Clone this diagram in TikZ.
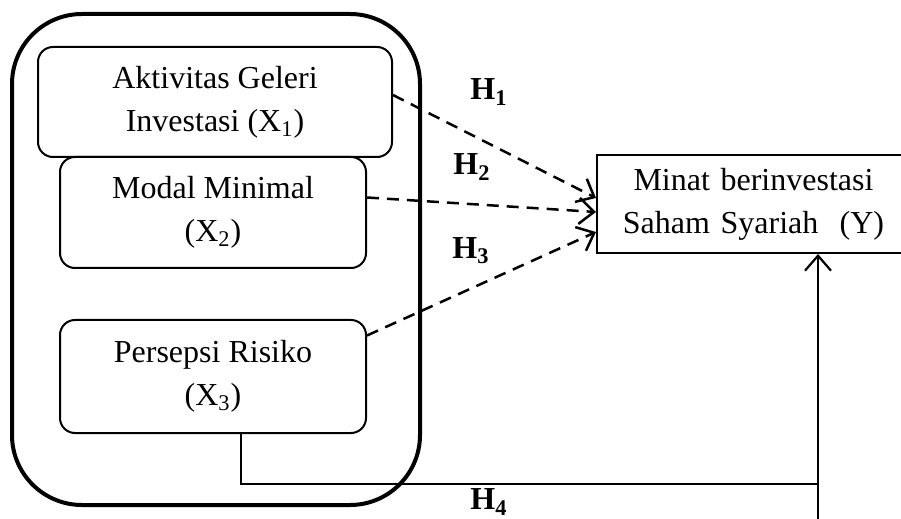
\documentclass[tikz,border=0pt]{standalone}
\usepackage{fontspec}
\setmainfont{Liberation Serif}
\usetikzlibrary{arrows.meta,calc}
\begin{document}
\begin{tikzpicture}[x=0.5pt,y=-0.5pt,
  varbox/.style={draw,line width=1pt,rounded corners=7.5pt,align=center,
    font=\fontsize{16}{21.5}\selectfont,inner sep=0pt},
  ybox/.style={draw,line width=1pt,align=center,font=\fontsize{16}{21.5}\selectfont,inner sep=0pt},
  outerbox/.style={line width=2pt,rounded corners=35pt},
  hyp/.style={dashed,dash pattern=on 6pt off 4pt,line width=1.25pt,-{Straight Barb[length=7.5pt,width=13pt,line width=1.25pt]}},
  hlabel/.style={font=\fontsize{16}{19}\selectfont\bfseries,inner sep=0pt},
  solidarr/.style={line width=1.1pt,-{Straight Barb[length=7.5pt,width=13pt,line width=1.1pt]}}]
\useasboundingbox (0,0) rectangle (901,519);
\draw[outerbox] (12,14) rectangle (420,505);
\node[varbox,minimum width=177pt,minimum height=55pt] (x1) at (215,102) {Aktivitas Geleri\\Investasi (X\textsubscript{1})};
\node[varbox,minimum width=153pt,minimum height=55.5pt] (x2) at (213,212.5) {Modal Minimal\\(X\textsubscript{2})};
\node[varbox,minimum width=153pt,minimum height=56.5pt] (x3) at (213,376.5) {Persepsi Risiko\\(X\textsubscript{3})};
\node[ybox,minimum width=156.5pt,minimum height=49pt,text width=156.5pt] (y) at (753.5,204) {Minat berinvestasi\\Saham Syariah\ \ (Y)};
\node[hlabel] (h1) at (489,92) {H\textsubscript{1}};
\node[hlabel] (h2) at (472,167) {H\textsubscript{2}};
\node[hlabel] (h3) at (471,251) {H\textsubscript{3}};
\node[hlabel] (h4) at (489,502) {H\textsubscript{4}};
\draw[hyp] ([yshift=3.5pt]x1.east) -- ([yshift=3pt]y.west);
\draw[hyp] ([yshift=7.5pt]x2.east) -- ([yshift=-4pt]y.west);
\draw[hyp] ([yshift=20.5pt]x3.east) -- ([yshift=-14pt]y.west);
\coordinate (j) at (818,484);
\coordinate (b) at (818,530);
\draw[line width=1pt] ([xshift=14pt]x3.south) |- (j);
\draw[solidarr] (b) -- (j) -- (j |- y.south);
\end{tikzpicture}
\end{document}
